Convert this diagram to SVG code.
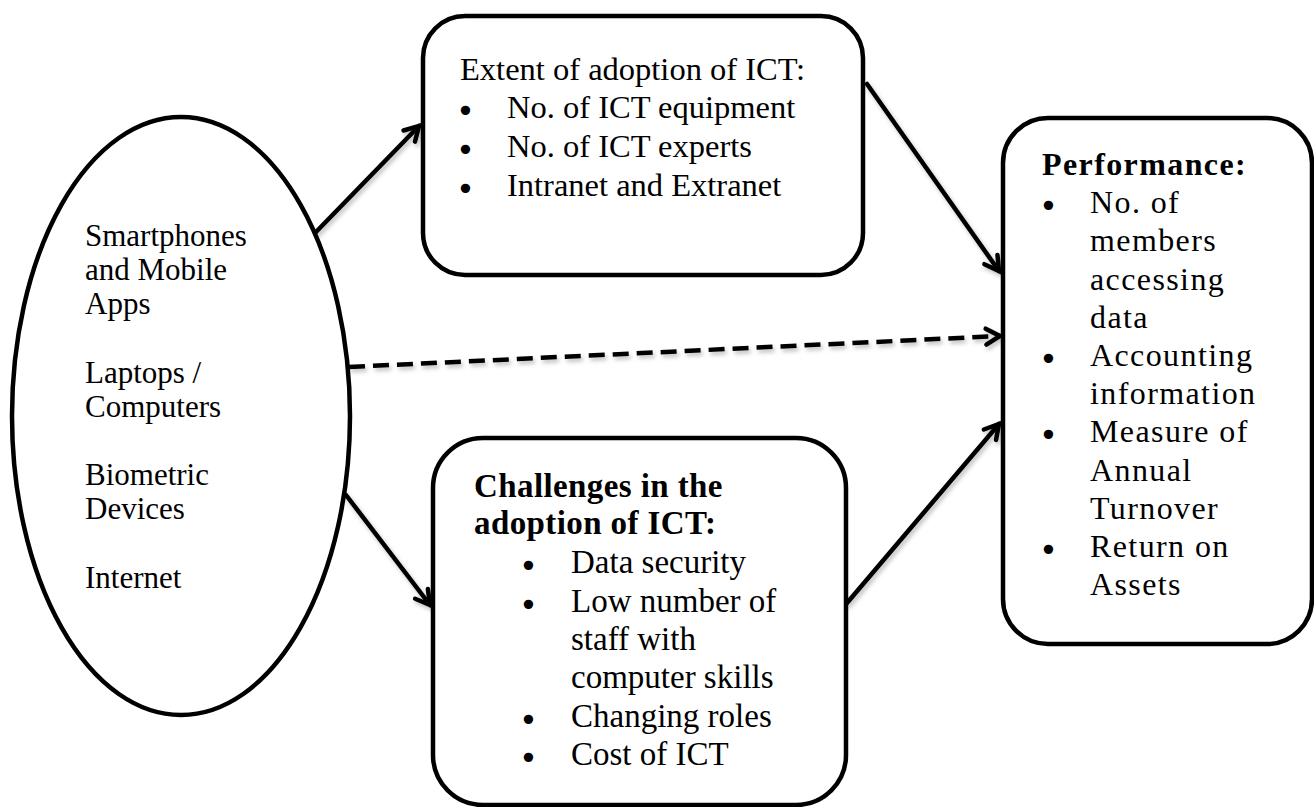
<svg xmlns="http://www.w3.org/2000/svg" width="1314" height="807" viewBox="0 0 1314 807">
  <style>
    .shape { fill: #ffffff; stroke: #000000; stroke-width: 4.5; }
    .link { fill: none; stroke: #000000; stroke-width: 4.5; stroke-linecap: round; }
    .dash { stroke-dasharray: 16 8; stroke-linecap: butt; }
    text { font-family: "Liberation Serif", "Times New Roman", serif; fill: #000000; }
    .t1 { font-size: 31px; }
    .t2 { font-size: 32.5px; }
    .t3 { font-size: 32px; letter-spacing: 1.4px; }
    .t4 { font-size: 33px; }
    .b { font-weight: bold; }
    .bul { font-family: "DejaVu Sans", sans-serif; font-size: 32px; letter-spacing: 0; }
  </style>
  <defs>
    <marker id="open-arrow" markerUnits="userSpaceOnUse" markerWidth="24" markerHeight="24" viewBox="0 0 24 24" refX="20" refY="12" orient="auto">
      <path d="M6,4 L20,12 L6,20" fill="none" stroke="#000000" stroke-width="4.5" stroke-linecap="round" stroke-linejoin="miter"/>
    </marker>
    <filter id="soft-shadow" x="-20%" y="-20%" width="140%" height="140%">
      <feDropShadow dx="2" dy="3" stdDeviation="2" flood-color="#000000" flood-opacity="0.25"/>
    </filter>
  </defs>

  <!-- connectors -->
  <g id="connectors" filter="url(#soft-shadow)">
    <line class="link" x1="315" y1="233" x2="419" y2="126" marker-end="url(#open-arrow)"/>
    <line class="link" x1="867" y1="84" x2="999" y2="271" marker-end="url(#open-arrow)"/>
    <line class="link dash" x1="349" y1="367" x2="1000" y2="336" marker-end="url(#open-arrow)"/>
    <line class="link" x1="346" y1="495" x2="430" y2="605" marker-end="url(#open-arrow)"/>
    <line class="link" x1="847" y1="603" x2="999" y2="424" marker-end="url(#open-arrow)"/>
  </g>

  <!-- ICT tools -->
  <g id="node-tools">
    <ellipse class="shape" cx="181" cy="416" rx="169" ry="299"/>
    <text class="t1" x="85" y="246">Smartphones</text>
    <text class="t1" x="85" y="280">and Mobile</text>
    <text class="t1" x="85" y="314">Apps</text>
    <text class="t1" x="85" y="383">Laptops /</text>
    <text class="t1" x="85" y="417">Computers</text>
    <text class="t1" x="85" y="485">Biometric</text>
    <text class="t1" x="85" y="519">Devices</text>
    <text class="t1" x="85" y="588">Internet</text>
  </g>

  <!-- Extent of adoption -->
  <g id="node-extent">
    <rect class="shape" x="423" y="16" width="440" height="259" rx="42" ry="42"/>
    <text class="t2" x="460" y="80">Extent of adoption of ICT:</text>
    <text class="bul" x="456" y="122">•</text>
    <text class="t2" x="507" y="118">No. of ICT equipment</text>
    <text class="bul" x="456" y="161">•</text>
    <text class="t2" x="507" y="157">No. of ICT experts</text>
    <text class="bul" x="456" y="200">•</text>
    <text class="t2" x="507" y="196">Intranet and Extranet</text>
  </g>

  <!-- Challenges -->
  <g id="node-challenges">
    <rect class="shape" x="433" y="438" width="413" height="367" rx="50" ry="50"/>
    <text class="t4 b" x="474" y="497" letter-spacing="0.4">Challenges in the</text>
    <text class="t4 b" x="474" y="534" letter-spacing="0.4">adoption of ICT:</text>
    <text class="bul" x="519" y="577">•</text>
    <text class="t4" x="571" y="573">Data security</text>
    <text class="bul" x="519" y="616">•</text>
    <text class="t4" x="571" y="612">Low number of</text>
    <text class="t4" x="571" y="650">staff with</text>
    <text class="t4" x="571" y="688">computer skills</text>
    <text class="bul" x="519" y="731">•</text>
    <text class="t4" x="571" y="727">Changing roles</text>
    <text class="bul" x="519" y="769">•</text>
    <text class="t4" x="571" y="765">Cost of ICT</text>
  </g>

  <!-- Performance -->
  <g id="node-performance">
    <rect class="shape" x="1003" y="118" width="309" height="526" rx="45" ry="45"/>
    <text class="t3 b" x="1042" y="175">Performance:</text>
    <text class="bul" x="1039" y="217">•</text>
    <text class="t3" x="1090" y="213">No. of</text>
    <text class="t3" x="1090" y="251">members</text>
    <text class="t3" x="1090" y="290">accessing</text>
    <text class="t3" x="1090" y="328">data</text>
    <text class="bul" x="1039" y="370">•</text>
    <text class="t3" x="1090" y="366">Accounting</text>
    <text class="t3" x="1090" y="404">information</text>
    <text class="bul" x="1039" y="446">•</text>
    <text class="t3" x="1090" y="442">Measure of</text>
    <text class="t3" x="1090" y="481">Annual</text>
    <text class="t3" x="1090" y="519">Turnover</text>
    <text class="bul" x="1039" y="561">•</text>
    <text class="t3" x="1090" y="557">Return on</text>
    <text class="t3" x="1090" y="595">Assets</text>
  </g>
</svg>
